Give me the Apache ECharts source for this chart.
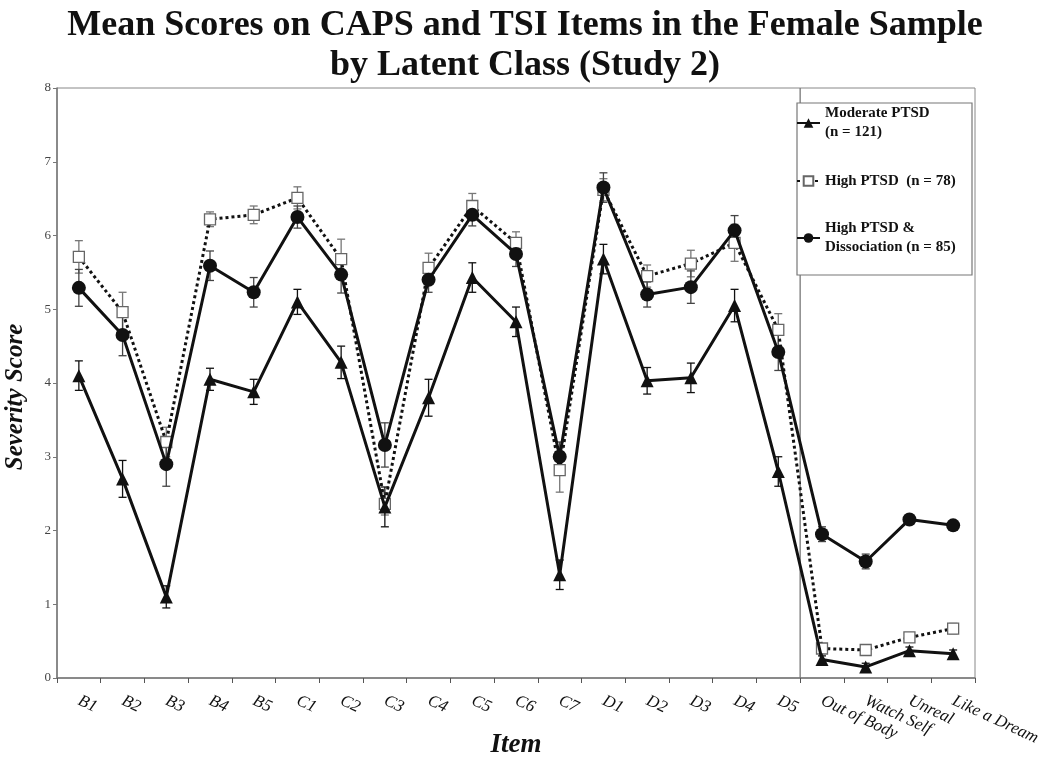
<!DOCTYPE html>
<html>
<head>
<meta charset="utf-8">
<script src="https://cdn.jsdelivr.net/npm/echarts@6/dist/echarts.min.js"></script>
<style>
  html, body { margin: 0; padding: 0; background: #fff; }
  #chart { width: 1050px; height: 763px; }
</style>
</head>
<body>
<div id="chart"></div>
<script>
// data
const items = ['B1', 'B2', 'B3', 'B4', 'B5', 'C1', 'C2', 'C3', 'C4', 'C5', 'C6', 'C7',
  'D1', 'D2', 'D3', 'D4', 'D5', 'Out of Body', 'Watch Self', 'Unreal', 'Like a Dream'];
const yTicks = [0, 8, 1];   // min, max, step

const moderate = [4.1, 2.7, 1.1, 4.05, 3.88, 5.1, 4.28, 2.32, 3.8, 5.43, 4.83, 1.4,
  5.68, 4.03, 4.07, 5.05, 2.8, 0.25, 0.15, 0.37, 0.33];
const moderateErr = [0.2, 0.25, 0.15, 0.15, 0.17, 0.17, 0.22, 0.27, 0.25, 0.2, 0.2, 0.2,
  0.2, 0.18, 0.2, 0.22, 0.2, 0.05, 0.05, 0.05, 0.05];

const high = [5.71, 4.96, 3.2, 6.22, 6.28, 6.51, 5.68, 2.36, 5.56, 6.4, 5.9, 2.82,
  6.62, 5.45, 5.62, 5.9, 4.72, 0.4, 0.38, 0.55, 0.67];
const highErr = [0.22, 0.27, 0.2, 0.1, 0.12, 0.15, 0.27, 0.15, 0.2, 0.17, 0.15, 0.3,
  0.15, 0.15, 0.18, 0.25, 0.22, 0.05, 0.05, 0.05, 0.07];

const dissoc = [5.29, 4.65, 2.9, 5.59, 5.23, 6.25, 5.47, 3.16, 5.4, 6.28, 5.75, 3.0,
  6.65, 5.2, 5.3, 6.07, 4.42, 1.95, 1.58, 2.15, 2.07];
const dissocErr = [0.25, 0.28, 0.3, 0.2, 0.2, 0.15, 0.25, 0.3, 0.17, 0.15, 0.17, 0.2,
  0.2, 0.17, 0.22, 0.2, 0.25, 0.1, 0.1, 0.05, 0.05];

const names = ['Moderate PTSD', 'High PTSD', 'High PTSD & Dissociation'];
const legendText = ['Moderate PTSD\n(n = 121)', 'High PTSD  (n = 78)', 'High PTSD &\nDissociation (n = 85)'];
const splitAfter = 'D5';   // vertical divider between CAPS and TSI items

const serif = '"Liberation Serif", "Times New Roman", serif';

function errData(vals, errs) {
  return vals.map((v, i) => [i, v, errs[i]]);
}

function errBars(color) {
  return function (params, api) {
    const i = api.value(0), v = api.value(1), e = api.value(2);
    const hi = api.coord([i, v + e]);
    const lo = api.coord([i, v - e]);
    const w = 4;
    const st = { stroke: color, lineWidth: 1.3 };
    return {
      type: 'group',
      children: [
        { type: 'line', shape: { x1: hi[0], y1: hi[1], x2: lo[0], y2: lo[1] }, style: st },
        { type: 'line', shape: { x1: hi[0] - w, y1: hi[1], x2: hi[0] + w, y2: hi[1] }, style: st },
        { type: 'line', shape: { x1: lo[0] - w, y1: lo[1], x2: lo[0] + w, y2: lo[1] }, style: st }
      ]
    };
  };
}

function legendFor(idx, top) {
  const twoLines = legendText[idx].indexOf('\n') >= 0;
  return {
    data: [names[idx]],
    left: 796,
    top: top,
    padding: 0,
    z: 30,
    itemWidth: 23,
    itemHeight: 12,
    itemGap: 0,
    selectedMode: false,
    formatter: () => legendText[idx],
    textStyle: {
      fontFamily: serif, fontWeight: 'bold', fontSize: 15, color: '#111',
      lineHeight: 19, padding: twoLines ? [19, 0, 0, 0] : 0
    }
  };
}

const chart = echarts.init(document.getElementById('chart'));
const splitIdx = items.indexOf(splitAfter);

chart.setOption({
  backgroundColor: '#fff',
  animation: false,
  title: {
    text: 'Mean Scores on CAPS and TSI Items in the Female Sample\nby Latent Class (Study 2)',
    left: 'center',
    top: 1,
    textStyle: { fontFamily: serif, fontWeight: 'bold', fontSize: 36, lineHeight: 40, color: '#111' }
  },
  legend: [legendFor(0, 94.5), legendFor(1, 171.5), legendFor(2, 209.5)],
  grid: {
    left: 57, right: 75, top: 88, bottom: 85,
    outerBoundsMode: 'none',
    containLabel: false,
    show: true, borderColor: '#888', borderWidth: 1
  },
  xAxis: {
    type: 'category',
    data: items,
    name: 'Item',
    nameLocation: 'middle',
    nameGap: 54,
    nameMoveOverlap: false,
    nameTextStyle: { fontFamily: serif, fontWeight: 'bold', fontStyle: 'italic', fontSize: 27, color: '#111' },
    axisLine: { lineStyle: { color: '#777', width: 1.5 } },
    axisTick: { show: true, length: 5, lineStyle: { color: '#555' } },
    axisLabel: {
      rotate: -25, margin: 22, interval: 0,
      fontFamily: serif, fontStyle: 'italic', fontSize: 17, color: '#111'
    }
  },
  yAxis: {
    type: 'value',
    min: yTicks[0], max: yTicks[1], interval: yTicks[2],
    name: 'Severity Score',
    nameLocation: 'middle',
    nameGap: 29,
    nameMoveOverlap: false,
    nameTextStyle: {
      fontFamily: serif, fontWeight: 'bold', fontStyle: 'italic', fontSize: 25, color: '#111',
      padding: [0, 28, 0, 0]
    },
    axisLine: { show: true, lineStyle: { color: '#777', width: 1.5 } },
    axisTick: { show: true, length: 4, lineStyle: { color: '#777' } },
    axisLabel: { fontFamily: serif, fontSize: 13, color: '#444', margin: 6 },
    splitLine: { show: false }
  },
  graphic: [{
    type: 'rect',
    z: 10,
    shape: { x: 797, y: 103, width: 175, height: 172 },
    style: { fill: '#fff', stroke: '#777', lineWidth: 1.2 }
  }],
  series: [
    {
      type: 'custom',
      name: 'divider',
      silent: true,
      data: [[splitIdx]],
      renderItem: function (params, api) {
        const a = api.coord([api.value(0), yTicks[1]]);
        const b = api.coord([api.value(0) + 1, yTicks[0]]);
        const x = (a[0] + b[0]) / 2;
        return { type: 'line', shape: { x1: x, y1: a[1], x2: x, y2: b[1] }, style: { stroke: '#777', lineWidth: 1.3 } };
      },
      z: 1
    },
    { type: 'custom', name: 'errH', data: errData(high, highErr), renderItem: errBars('#777'), z: 2 },
    { type: 'custom', name: 'errD', data: errData(dissoc, dissocErr), renderItem: errBars('#444'), z: 2 },
    { type: 'custom', name: 'errM', data: errData(moderate, moderateErr), renderItem: errBars('#111'), z: 2 },
    {
      name: names[1], type: 'line', data: high,
      symbol: 'rect', symbolSize: 11,
      lineStyle: { color: '#111', width: 3, type: [3, 3] },
      itemStyle: { color: '#fff', borderColor: '#666', borderWidth: 1.3 },
      z: 3
    },
    {
      name: names[2], type: 'line', data: dissoc,
      symbol: 'circle', symbolSize: 14,
      lineStyle: { color: '#111', width: 3 },
      itemStyle: { color: '#111' },
      z: 4
    },
    {
      name: names[0], type: 'line', data: moderate,
      symbol: 'triangle', symbolSize: 13,
      lineStyle: { color: '#111', width: 3 },
      itemStyle: { color: '#111' },
      z: 5
    }
  ]
});
</script>
</body>
</html>
